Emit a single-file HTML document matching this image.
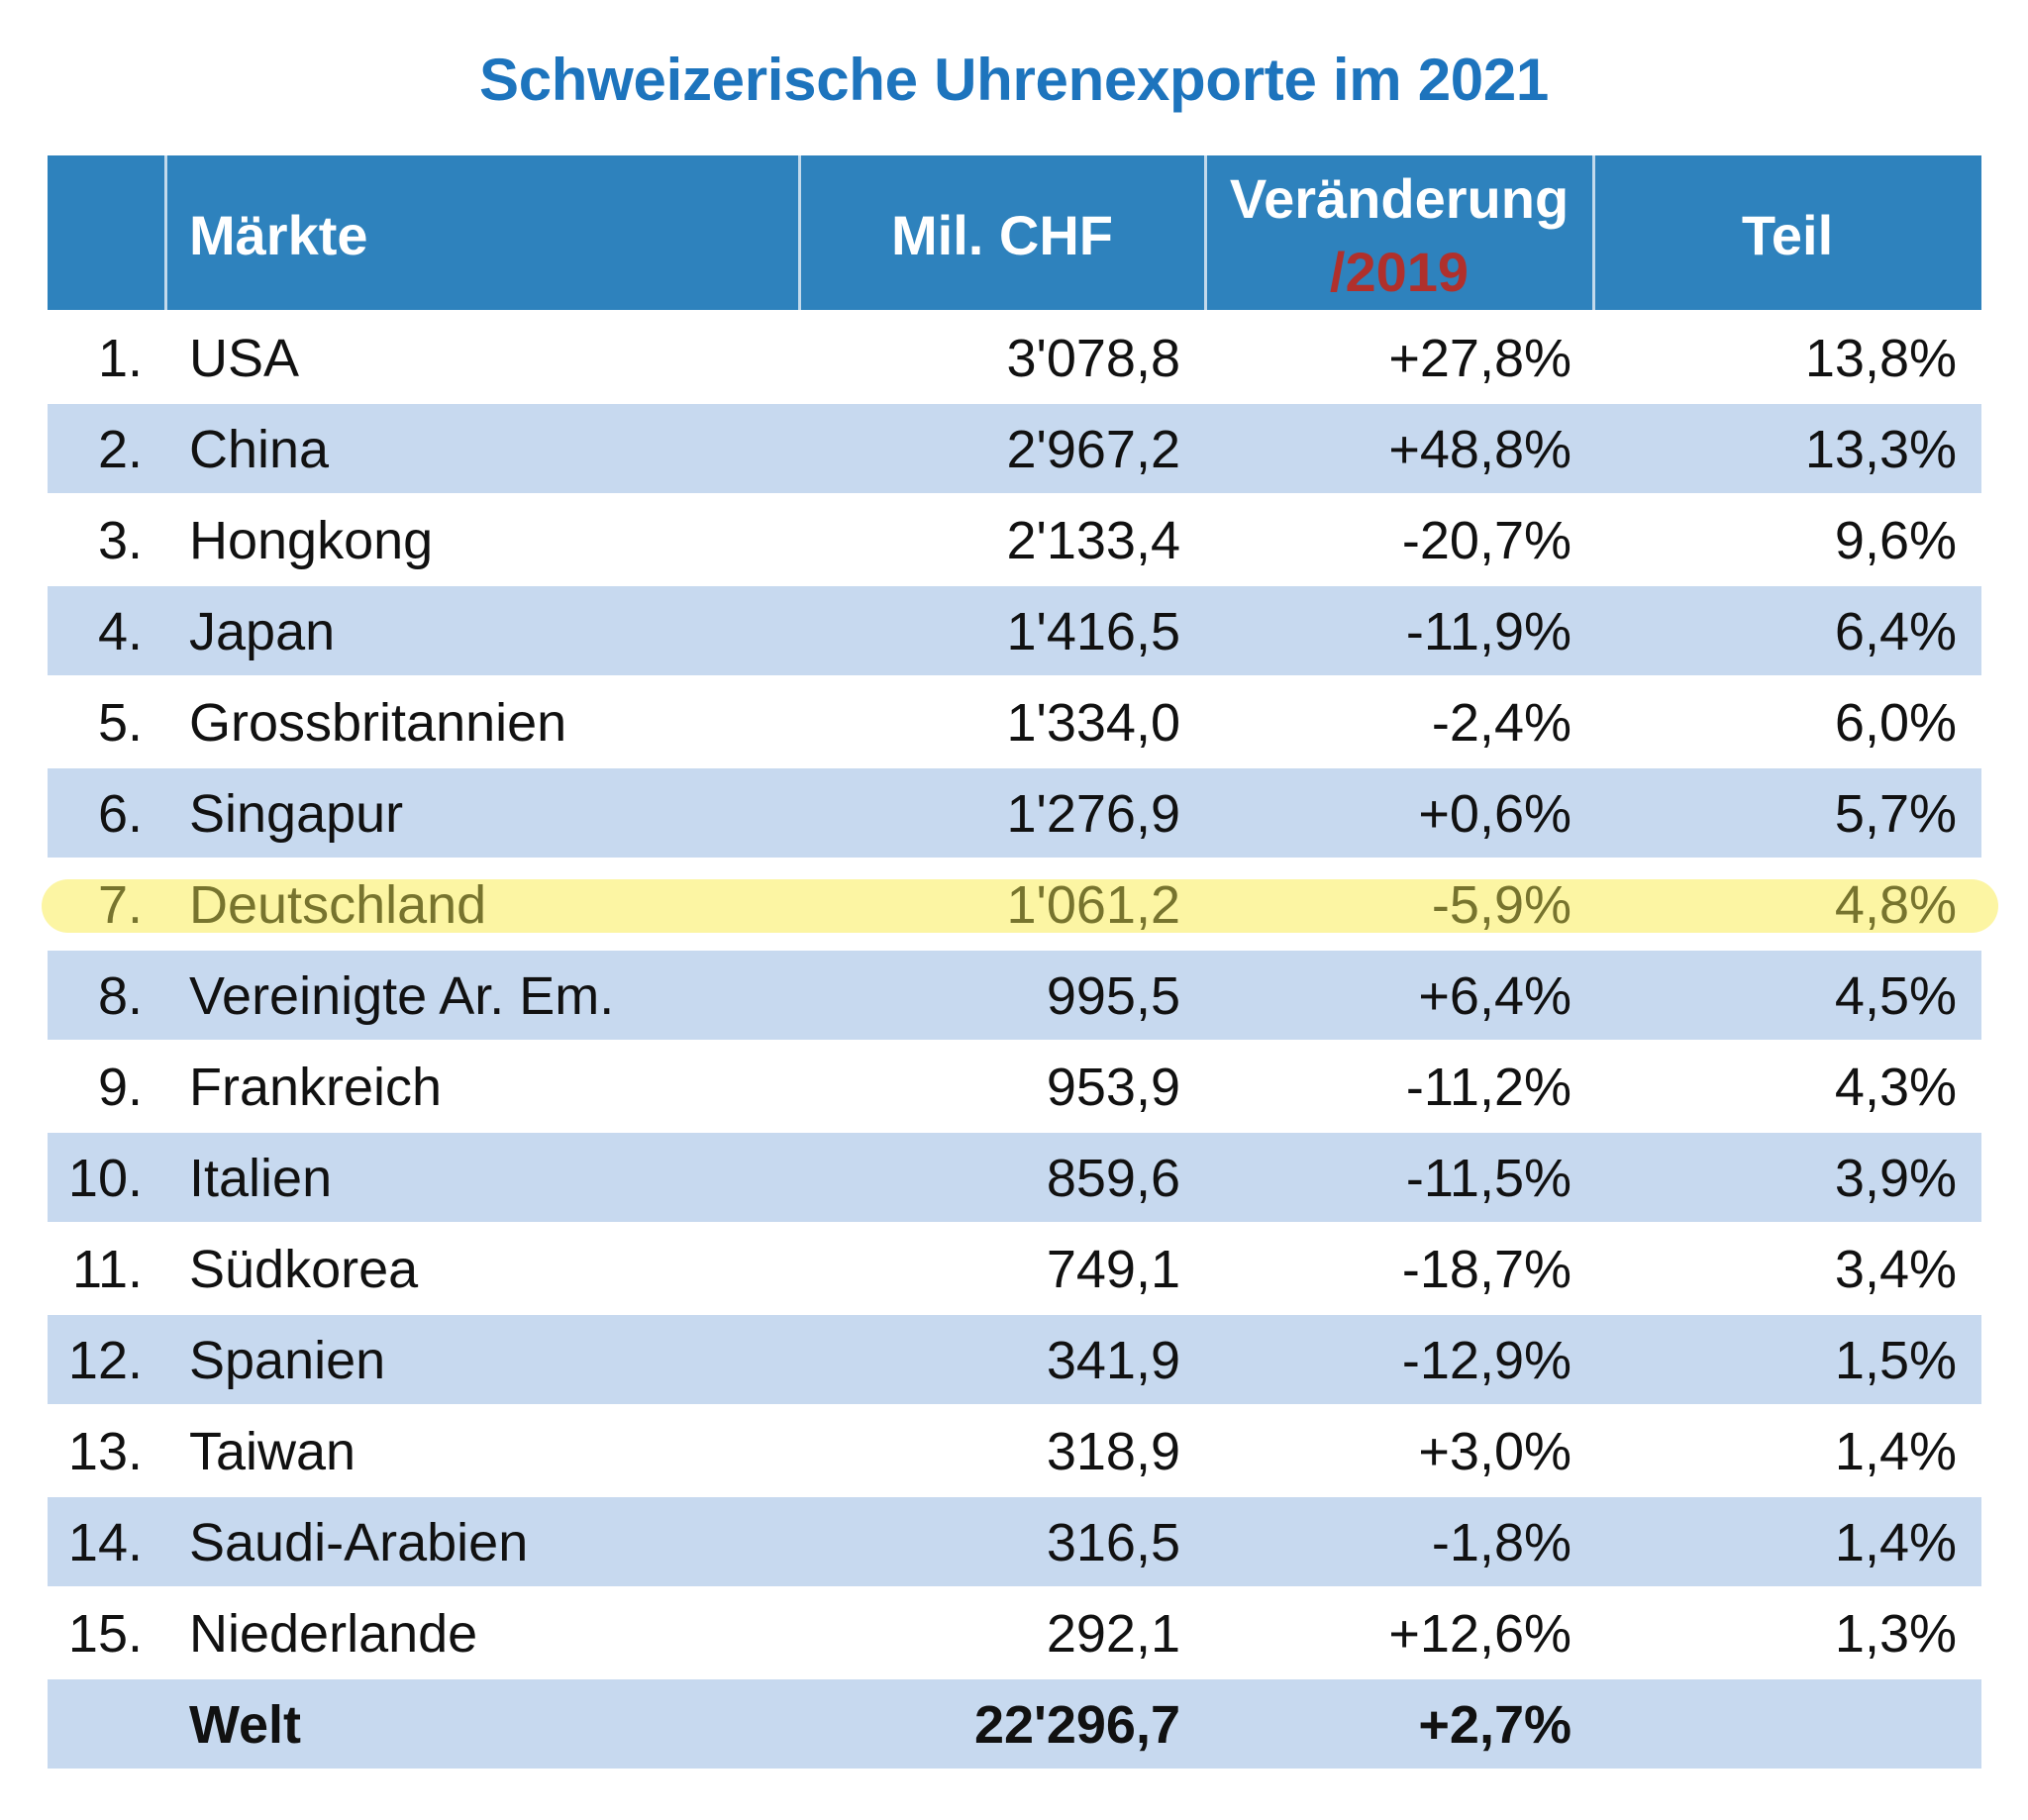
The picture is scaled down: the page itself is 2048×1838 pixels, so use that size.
<!DOCTYPE html>
<html><head><meta charset="utf-8"><style>
body{margin:0;width:2048px;height:1838px;background:#fff;position:relative;overflow:hidden;font-family:"Liberation Sans",sans-serif;}
.a{position:absolute;}
.title{left:0;width:2048px;top:46px;text-align:center;color:#1d74bd;font-weight:bold;font-size:60px;letter-spacing:-0.3px;}
.hdr{left:48px;top:157px;width:1953px;height:156px;background:#2e82bd;}
.vs{top:157px;width:3px;height:156px;background:#e8f0f8;opacity:.8}
.ht{color:#fff;font-weight:bold;font-size:56px;}
.row{left:48px;width:1953px;height:90px;}
.b{background:#c7d9ef;}
.c{position:absolute;font-size:54px;line-height:92px;color:#111;white-space:nowrap;}
.n{right:1904px;text-align:right}
.m{left:191px}
.v1{right:856px}
.v2{right:461px}
.v3{right:72px}
</style></head><body>
<div class="a title">Schweizerische Uhrenexporte im 2021</div>
<div class="a hdr"></div>
<div class="a vs" style="left:166px"></div>
<div class="a vs" style="left:806px"></div>
<div class="a vs" style="left:1216px"></div>
<div class="a vs" style="left:1608px"></div>
<div class="a ht" style="left:191px;top:205px">Märkte</div>
<div class="a ht" style="left:807px;width:410px;text-align:center;top:205px">Mil. CHF</div>
<div class="a ht" style="left:1217px;width:392px;text-align:center;top:168px">Veränderung</div>
<div class="a ht" style="left:1217px;width:392px;text-align:center;top:242px;color:#b0302c">/2019</div>
<div class="a ht" style="left:1609px;width:392px;text-align:center;top:205px">Teil</div>

<div class="a row" style="top:316px"></div>
<div class="a row b" style="top:408px"></div>
<div class="a row" style="top:500px"></div>
<div class="a row b" style="top:592px"></div>
<div class="a row" style="top:684px"></div>
<div class="a row b" style="top:776px"></div>
<div class="a" style="left:42px;top:888px;width:1976px;height:54px;border-radius:27px;background:#fcf5a3"></div>
<div class="a row b" style="top:960px"></div>
<div class="a row" style="top:1052px"></div>
<div class="a row b" style="top:1144px"></div>
<div class="a row" style="top:1236px"></div>
<div class="a row b" style="top:1328px"></div>
<div class="a row" style="top:1420px"></div>
<div class="a row b" style="top:1512px"></div>
<div class="a row" style="top:1604px"></div>
<div class="a row b" style="top:1696px"></div>

<div style="position:absolute;left:0;top:316px;width:2048px;height:92px"><span class="c n">1.</span><span class="c m">USA</span><span class="c v1">3'078,8</span><span class="c v2">+27,8%</span><span class="c v3">13,8%</span></div>
<div style="position:absolute;left:0;top:408px;width:2048px;height:92px"><span class="c n">2.</span><span class="c m">China</span><span class="c v1">2'967,2</span><span class="c v2">+48,8%</span><span class="c v3">13,3%</span></div>
<div style="position:absolute;left:0;top:500px;width:2048px;height:92px"><span class="c n">3.</span><span class="c m">Hongkong</span><span class="c v1">2'133,4</span><span class="c v2">-20,7%</span><span class="c v3">9,6%</span></div>
<div style="position:absolute;left:0;top:592px;width:2048px;height:92px"><span class="c n">4.</span><span class="c m">Japan</span><span class="c v1">1'416,5</span><span class="c v2">-11,9%</span><span class="c v3">6,4%</span></div>
<div style="position:absolute;left:0;top:684px;width:2048px;height:92px"><span class="c n">5.</span><span class="c m">Grossbritannien</span><span class="c v1">1'334,0</span><span class="c v2">-2,4%</span><span class="c v3">6,0%</span></div>
<div style="position:absolute;left:0;top:776px;width:2048px;height:92px"><span class="c n">6.</span><span class="c m">Singapur</span><span class="c v1">1'276,9</span><span class="c v2">+0,6%</span><span class="c v3">5,7%</span></div>
<div style="position:absolute;left:0;top:868px;width:2048px;height:92px;"><span class="c n" style="color:#77742e">7.</span><span class="c m" style="color:#77742e">Deutschland</span><span class="c v1" style="color:#77742e">1'061,2</span><span class="c v2" style="color:#77742e">-5,9%</span><span class="c v3" style="color:#77742e">4,8%</span></div>
<div style="position:absolute;left:0;top:960px;width:2048px;height:92px"><span class="c n">8.</span><span class="c m">Vereinigte Ar. Em.</span><span class="c v1">995,5</span><span class="c v2">+6,4%</span><span class="c v3">4,5%</span></div>
<div style="position:absolute;left:0;top:1052px;width:2048px;height:92px"><span class="c n">9.</span><span class="c m">Frankreich</span><span class="c v1">953,9</span><span class="c v2">-11,2%</span><span class="c v3">4,3%</span></div>
<div style="position:absolute;left:0;top:1144px;width:2048px;height:92px"><span class="c n">10.</span><span class="c m">Italien</span><span class="c v1">859,6</span><span class="c v2">-11,5%</span><span class="c v3">3,9%</span></div>
<div style="position:absolute;left:0;top:1236px;width:2048px;height:92px"><span class="c n">11.</span><span class="c m">Südkorea</span><span class="c v1">749,1</span><span class="c v2">-18,7%</span><span class="c v3">3,4%</span></div>
<div style="position:absolute;left:0;top:1328px;width:2048px;height:92px"><span class="c n">12.</span><span class="c m">Spanien</span><span class="c v1">341,9</span><span class="c v2">-12,9%</span><span class="c v3">1,5%</span></div>
<div style="position:absolute;left:0;top:1420px;width:2048px;height:92px"><span class="c n">13.</span><span class="c m">Taiwan</span><span class="c v1">318,9</span><span class="c v2">+3,0%</span><span class="c v3">1,4%</span></div>
<div style="position:absolute;left:0;top:1512px;width:2048px;height:92px"><span class="c n">14.</span><span class="c m">Saudi-Arabien</span><span class="c v1">316,5</span><span class="c v2">-1,8%</span><span class="c v3">1,4%</span></div>
<div style="position:absolute;left:0;top:1604px;width:2048px;height:92px"><span class="c n">15.</span><span class="c m">Niederlande</span><span class="c v1">292,1</span><span class="c v2">+12,6%</span><span class="c v3">1,3%</span></div>
<div style="position:absolute;left:0;top:1696px;width:2048px;height:92px;font-weight:bold"><span class="c m">Welt</span><span class="c v1">22'296,7</span><span class="c v2">+2,7%</span></div>
</body></html>
